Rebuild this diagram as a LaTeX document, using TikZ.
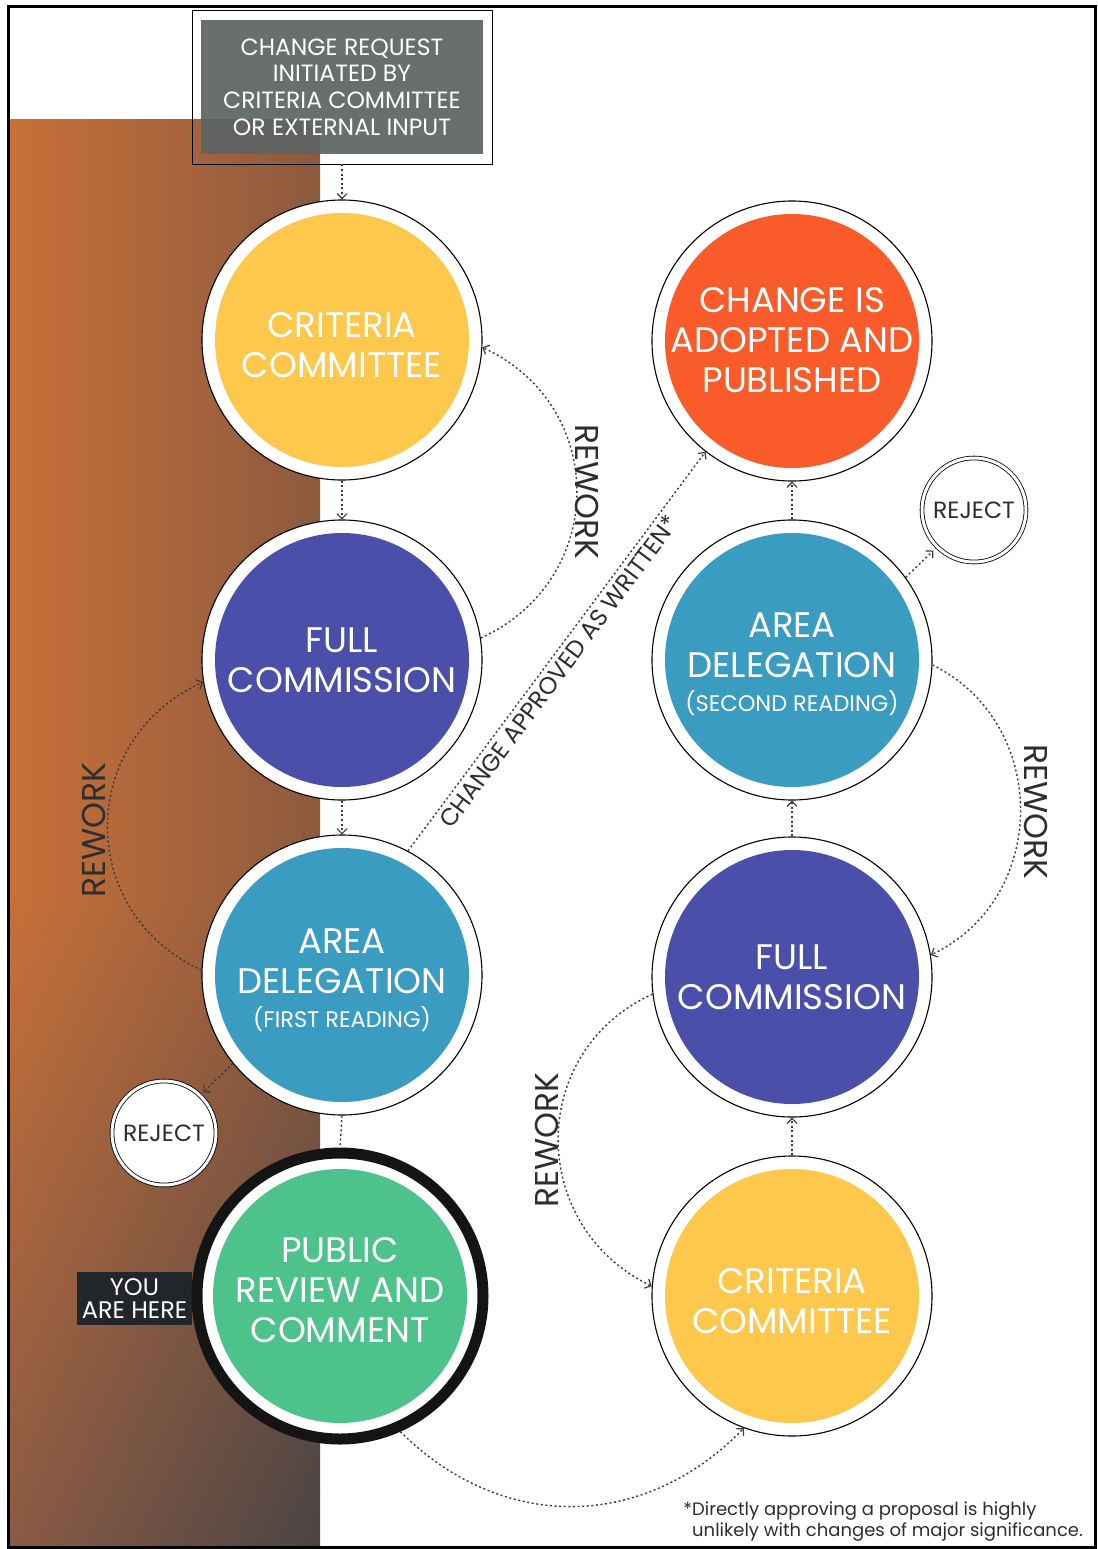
\documentclass[tikz,border=0pt]{standalone}
\usepackage{fontspec}
\setmainfont{Poppins}
\usetikzlibrary{arrows.meta,shadings}
\definecolor{cyellow}{HTML}{FDC84C}
\definecolor{cpurple}{HTML}{4A4FA9}
\definecolor{cteal}{HTML}{3A9CC0}
\definecolor{cgreen}{HTML}{4DC28B}
\definecolor{corange}{HTML}{F95B2A}
\definecolor{cgray}{HTML}{5E6464}
\definecolor{ctext}{HTML}{2E2E2E}
\definecolor{cline}{HTML}{3A3A3A}
\definecolor{gUL}{HTML}{C77038}
\definecolor{gUR}{HTML}{8C5A3F}
\definecolor{gLL}{HTML}{8A5A44}
\definecolor{gLR}{HTML}{4A4444}
\definecolor{youbox}{HTML}{22262B}
\tikzset{
  stage/.style={circle, draw=black, line width=1.1pt, fill=white, minimum size=280pt, inner sep=0pt},
  stagefill/.style={path picture={\fill[#1] (path picture bounding box.center) circle (127pt);}},
  stagetext/.style={inner sep=0pt, align=center, text=white, font=\fontsize{35.5}{40}\selectfont},
  rejectnode/.style={circle, draw=black, line width=0.8pt, double=white, double distance=3pt,
    fill=white, minimum size=104pt, inner sep=0pt, text=ctext, font=\fontsize{23.5}{26}\selectfont},
  conn/.style={draw=cline, line width=1.4pt, dash pattern=on 2pt off 2.6pt},
  arr/.style={-{Straight Barb[length=5pt,width=10pt,line width=1.2pt]}},
  labeltext/.style={text=ctext, inner sep=0pt},
  reworklbl/.style={labeltext, font=\fontsize{33}{34}\selectfont},
}
\newcommand{\readingline}[1]{{\fontsize{22.5}{26}\selectfont #1}}
\begin{document}
\begin{tikzpicture}[x=1pt,y=-1pt]
\useasboundingbox (0,0) rectangle (1097,1549);
\fill[white] (0,0) rectangle (1097,1549);
% background gradient strip
\shade[left color=gUL, right color=gUR] (10,120) rectangle (320,900);
\shade[upper left=gUL, upper right=gUR, lower left=gLL, lower right=gLR] (10,900) rectangle (320,1546);
% frame
\draw[line width=3pt] (8,6.5) rectangle (1095,1547);

% top request box
\node[fill=cgray, fill opacity=0.93, text opacity=1, text=white, minimum width=282pt, minimum height=134pt,
  inner sep=0pt, align=center, font=\fontsize{23.5}{26.7}\selectfont] (reqtxt) at (342,87)
  {CHANGE REQUEST\\INITIATED BY\\CRITERIA COMMITTEE\\OR EXTERNAL INPUT};
\node[draw=black, line width=0.8pt, minimum width=300pt, minimum height=154pt, inner sep=0pt] (req) at (342,87) {};

% left column
\node[stage, stagefill=cyellow] (ccL) at (342,340) {};
\node[stagetext] (ccLt) at (342,345) {CRITERIA\\COMMITTEE};
\node[stage, stagefill=cpurple] (fcL) at (342,660) {};
\node[stagetext] (fcLt) at (342,660) {FULL\\COMMISSION};
\node[stage, stagefill=cteal] (adL) at (342,975) {};
\node[stagetext] (adLt) at (342,980) {AREA\\DELEGATION\\[-6pt]\readingline{(FIRST READING)}};
\node[rejectnode] (rejL) at (164,1133) {REJECT};
\node[fill=youbox, minimum width=115pt, minimum height=53pt, inner sep=0pt, align=center, text=white,
  font=\fontsize{24}{23}\selectfont] (you) at (134.5,1298.5) {YOU\\ARE HERE};
\node[stage, stagefill=cgreen, draw=black!92, line width=11pt, minimum size=286pt] (pr) at (340,1296) {};
\node[stagetext] (prt) at (340,1290) {PUBLIC\\REVIEW AND\\COMMENT};

% right column
\node[stage, stagefill=corange] (chg) at (792,341) {};
\node[stagetext] (chgt) at (792,340) {CHANGE IS\\ADOPTED AND\\PUBLISHED};
\node[rejectnode] (rejR) at (974,510) {REJECT};
\node[stage, stagefill=cteal] (adR) at (792,660) {};
\node[stagetext] (adRt) at (792,664) {AREA\\DELEGATION\\[-6pt]\readingline{(SECOND READING)}};
\node[stage, stagefill=cpurple] (fcR) at (792,977) {};
\node[stagetext] (fcRt) at (792,977) {FULL\\COMMISSION};
\node[stage, stagefill=cyellow] (ccR) at (792,1296) {};
\node[stagetext] (ccRt) at (792,1301) {CRITERIA\\COMMITTEE};

% straight connectors
\draw[conn, arr] (req.south) -- (ccL.north);
\draw[conn, arr] (ccL.south) -- (fcL.north);
\draw[conn, arr] (fcL.south) -- (adL.north);
\draw[conn] (adL.south) -- (pr.north);
\draw[conn, arr] (ccR.north) -- (fcR.south);
\draw[conn, arr] (fcR.north) -- (adR.south);
\draw[conn, arr] (adR.north) -- (chg.south);
\draw[conn, arr, shorten >=5pt] (adR.36) -- (rejR.-135);
\draw[conn, arr, shorten >=4pt] (adL.219) -- (rejL.46);

% approved as written
\draw[conn, arr] (adL.62) -- node[pos=0.47, sloped, below=4pt, labeltext, font=\fontsize{24}{26}\selectfont] (apprlbl) {CHANGE APPROVED AS WRITTEN*} (chg.-128);

% rework arcs
\draw[conn, arr] (fcL.9) .. controls (608,580) and (609,406) .. (ccL.-3);
\node[reworklbl, rotate=-90] (rw1) at (587,492) {REWORK};
\draw[conn, arr] (adL.178) .. controls (76,913) and (76,740) .. (fcL.189);
\node[reworklbl, rotate=90] (rw2) at (94,830) {REWORK};
\draw[conn, arr] (adR.-2) .. controls (1050,723) and (1050,898) .. (fcR.9);
\node[reworklbl, rotate=-90] (rw3) at (1036,812) {REWORK};
\draw[conn, arr] (fcR.187) .. controls (527,1051) and (527,1226) .. (ccR.176);
\node[reworklbl, rotate=90] (rw4) at (547,1140) {REWORK};

% public review to criteria committee
\draw[conn, arr] (pr.-66) .. controls (501,1532) and (643,1532) .. (ccR.-110);

% footnote
\node[anchor=north west, inner sep=0pt, align=left, text=ctext, font=\fontsize{18}{21}\selectfont] (note) at (692,1502)
  {\llap{*}Directly approving a proposal is highly\\unlikely with changes of major significance.};
\end{tikzpicture}
\end{document}
